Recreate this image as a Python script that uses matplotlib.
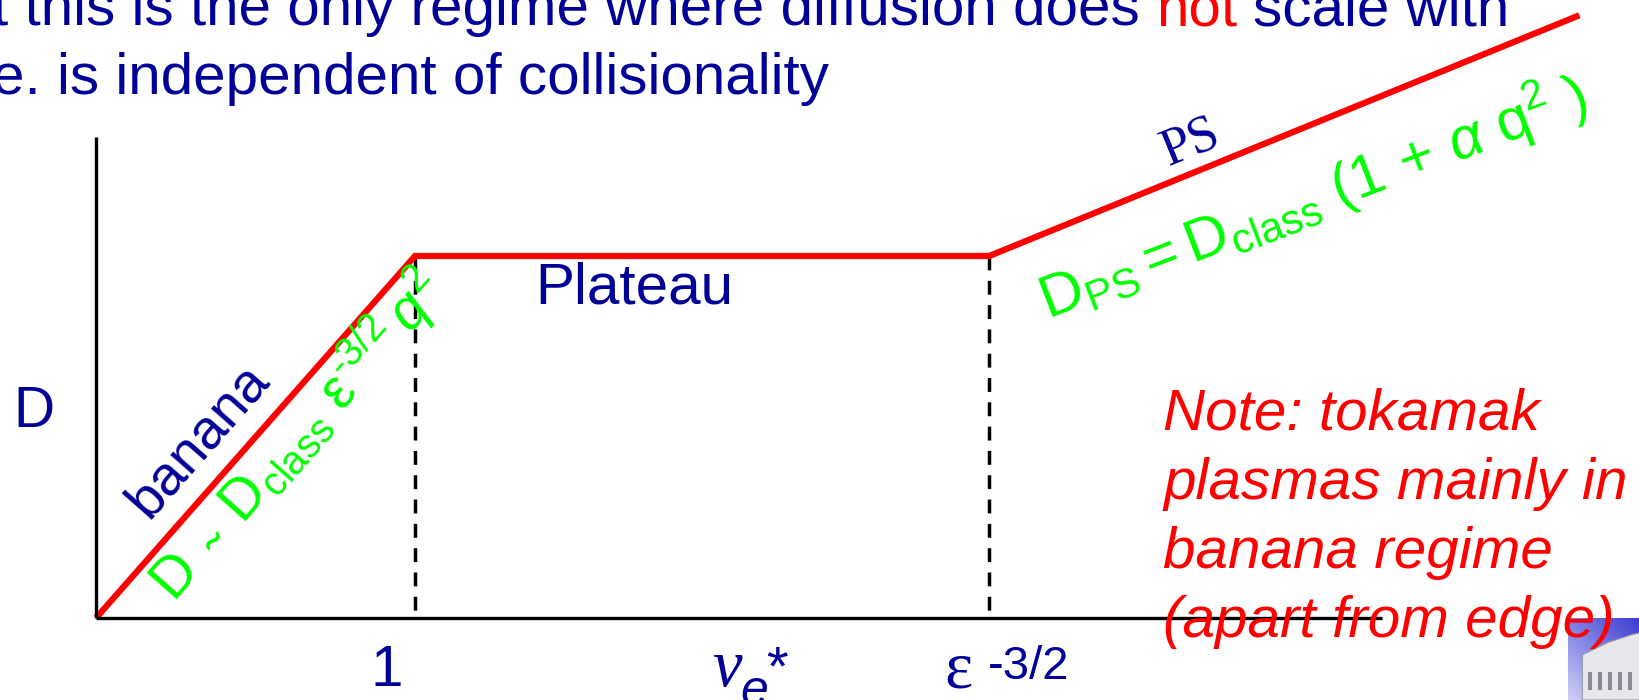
import numpy as np
import matplotlib
matplotlib.use("Agg")
import matplotlib.pyplot as plt
from matplotlib.patches import Polygon

# Neoclassical diffusion versus normalised collisionality (schematic units:
# nu* = 1 at the banana/plateau boundary, D = 1 on the plateau)
nu_star = [0.0, 1.0, 2.8, 4.65]
diff_D = [0.0, 1.0, 1.0, 1.665]
nu_axis_end = 4.03
D_axis_top = 1.33

title_lines = ["t this is the only regime where diffusion does",
               "not", "scale with",
               "e. is independent of collisionality"]
regime_labels = ["banana", "Plateau", "PS"]
banana_formula = (r"$\mathrm{D\ \ \~{}\ \ D_{class}}\ \mathrm{ε}^{\mathrm{‐3/2}}"
                  r"\,q^{\mathrm{2}}$")
ps_formula = r"$\mathrm{D_{PS}=D_{class}}\ \mathrm{(1\,+\,}\alpha\ \mathrm{q^{2}\ )}$"
note_lines = ["Note: tokamak", "plasmas mainly in", "banana regime",
              "(apart from edge)"]

W, H, DPI = 1640, 700, 100
X0, Y0, SX, SY = 96, 618, 319, 362   # origin and unit lengths in pixels

NAVY = "#000099"
RED = "#ff0000"
GREEN = "#00ff00"
SANS = "Liberation Sans"
SERIF = "Liberation Serif"
FS = 42

plt.rcParams["mathtext.fontset"] = "custom"
plt.rcParams["mathtext.rm"] = SANS
plt.rcParams["mathtext.it"] = SANS + ":italic"
plt.rcParams["mathtext.sf"] = SANS
plt.rcParams["mathtext.bf"] = SANS + ":bold"

fig = plt.figure(figsize=(W / DPI, H / DPI), dpi=DPI)
fig.patch.set_facecolor("white")
ax = fig.add_axes([0, 0, 1, 1])
ax.set_xlim(-X0 / SX, (W - X0) / SX)
ax.set_ylim(-(H - Y0) / SY, Y0 / SY)
ax.axis("off")


def px(x, y):
    """pixel position (origin top-left) -> figure fraction"""
    return (x / W, 1 - y / H)


def label(x, y, s, **kw):
    kw.setdefault("fontsize", FS)
    kw.setdefault("family", SANS)
    kw.setdefault("va", "baseline")
    kw.setdefault("ha", "left")
    return fig.text(*px(x, y), s, transform=fig.transFigure, **kw)


# axes of the diagram
ax.plot([0, nu_axis_end], [0, 0], color="black", lw=2.4,
        solid_capstyle="butt", zorder=6)
ax.plot([0, 0], [0, D_axis_top], color="black", lw=2.4,
        solid_capstyle="butt", zorder=6)

# regime boundaries
for xb, yb in zip(nu_star[1:3], diff_D[1:3]):
    ax.plot([xb, xb], [yb, 0], color="black", lw=2.5, dashes=(4.0, 3.0),
            zorder=2)

# D(nu*)
ax.plot(nu_star, diff_D, color=RED, lw=4.5, solid_joinstyle="miter",
        solid_capstyle="butt", zorder=3)

# heading text
renderer = fig.canvas.get_renderer()
space = 0.278 * FS * DPI / 72
t1 = label(-8, 25, title_lines[0], color=NAVY)
x1 = t1.get_window_extent(renderer).x1
t2 = fig.text(x1 / W + space / W, 1 - 25 / H, title_lines[1], color=RED,
              fontsize=FS, family=SANS, va="baseline")
x2 = t2.get_window_extent(renderer).x1
fig.text(x2 / W + space / W, 1 - 25 / H, title_lines[2], color=NAVY,
         fontsize=FS, family=SANS, va="baseline")
label(-8, 94, title_lines[3], color=NAVY)

# regime names
ang_banana = np.degrees(np.arctan2(SY * diff_D[1], SX * nu_star[1]))
ang_ps = np.degrees(np.arctan2(SY * (diff_D[3] - diff_D[2]),
                               SX * (nu_star[3] - nu_star[2])))
label(209, 450, regime_labels[0], color=NAVY, fontsize=40, ha="center",
      rotation=ang_banana, rotation_mode="anchor")
label(535, 303, regime_labels[1], color=NAVY)
label(1168, 166, regime_labels[2], color=NAVY, family=SERIF, fontsize=38,
      rotation=ang_ps, rotation_mode="anchor")

# scaling laws
label(174, 603, banana_formula, color=GREEN, fontsize=41,
      rotation=ang_banana, rotation_mode="anchor")
label(1048, 320, ps_formula, color=GREEN, fontsize=43,
      rotation=21, rotation_mode="anchor")

# axis labels
label(13, 427, "D", color=NAVY, fontsize=41)
label(387, 686, "1", color=NAVY, ha="center")
label(944, 687, "ε", color=NAVY, family=SERIF, fontsize=48)
label(988, 679, "-3/2", color=NAVY, fontsize=34)
label(712, 686, "ν", color=NAVY, family=SERIF, fontsize=48, style="italic")
label(740, 705, "e", color=NAVY, fontsize=36, style="italic")
label(766, 684, "*", color=NAVY, fontsize=40)

# remark
for line, yb in zip(note_lines, [430, 499, 568, 637]):
    label(1163, yb, line, color=RED, style="italic", zorder=4)

# institute logo corner
lax = fig.add_axes([1568 / W, 0, (W - 1568) / W, (H - 618) / H])
lax.axis("off")
gy, gx = np.mgrid[0:1:64j, 0:1:64j]
t = np.clip(0.55 * gy + 0.45 * (1 - gx), 0, 1)
top = np.array([0.23, 0.23, 0.82])
bot = np.array([0.80, 0.82, 0.97])
img = top[None, None, :] * (1 - t[..., None]) + bot[None, None, :] * t[..., None]
lax.imshow(img, extent=[0, 1, 0, 1], aspect="auto", origin="upper")
lax.add_patch(Polygon([[0.2, 0], [0.2, 0.55], [0.55, 0.7], [0.9, 0.8],
                       [1, 0.82], [1, 0]], closed=True, fc="#e8e8ec",
                      ec="#9a9aa8", lw=0.8))
for xw in [0.28, 0.42, 0.56, 0.7, 0.84]:
    lax.add_patch(plt.Rectangle((xw, 0.12), 0.05, 0.22, fc="#8a8a96", lw=0))
lax.set_xlim(0, 1)
lax.set_ylim(0, 1)

fig.savefig("out.png", dpi=DPI, facecolor="white")
